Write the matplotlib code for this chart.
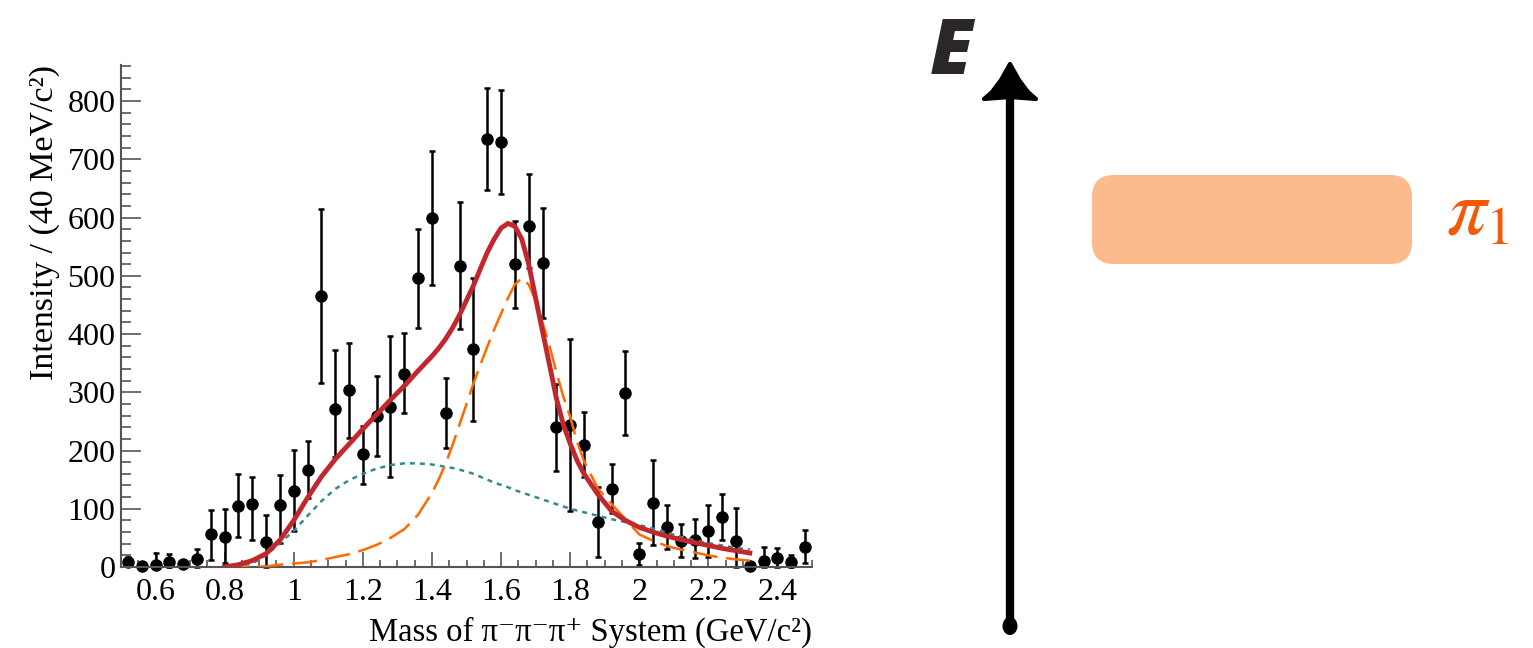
import matplotlib
matplotlib.use('Agg')
import matplotlib.pyplot as plt
from matplotlib.ticker import MultipleLocator, FormatStrFormatter
from matplotlib.patches import FancyBboxPatch, Polygon, Ellipse

# measured intensity per 40 MeV bin
mass = [0.52, 0.56, 0.60, 0.64, 0.68, 0.72, 0.76, 0.80, 0.84, 0.88,
        0.92, 0.96, 1.00, 1.04, 1.08, 1.12, 1.16, 1.20, 1.24, 1.28,
        1.32, 1.36, 1.40, 1.44, 1.48, 1.52, 1.56, 1.60, 1.64, 1.68,
        1.72, 1.76, 1.80, 1.84, 1.88, 1.92, 1.96, 2.00, 2.04, 2.08,
        2.12, 2.16, 2.20, 2.24, 2.28, 2.32, 2.36, 2.40, 2.44, 2.48]
intensity = [9, 2, 3, 9, 5, 14, 56, 52, 105, 108,
             43, 106, 130, 166, 466, 272, 304, 194, 259, 275,
             332, 496, 600, 265, 517, 374, 735, 730, 520, 586,
             522, 241, 244, 209, 78, 134, 299, 23, 110, 68,
             45, 47, 62, 86, 45, 2, 11, 15, 9, 35]
err_up = [9, 3, 21, 13, 3, 17, 42, 47, 55, 47,
          46, 52, 71, 50, 148, 100, 81, 48, 69, 122,
          69, 84, 115, 59, 110, 122, 87, 89, 74, 89,
          95, 74, 147, 58, 60, 43, 72, 19, 74, 38,
          28, 35, 44, 39, 57, 2, 23, 17, 12, 28]
err_down = [8, 2, 3, 9, 5, 14, 44, 45, 54, 62,
            43, 65, 69, 48, 150, 83, 82, 52, 69, 120,
            68, 85, 116, 60, 109, 123, 88, 89, 76, 73,
            95, 76, 147, 54, 60, 42, 72, 20, 72, 37,
            28, 32, 44, 39, 45, 2, 11, 15, 9, 28]

# fit components
fit_x = [0.80, 0.84, 0.88, 0.92, 0.96, 1.00, 1.04, 1.08, 1.12, 1.16,
         1.20, 1.24, 1.28, 1.32, 1.36, 1.40, 1.42, 1.44, 1.46, 1.48,
         1.50, 1.52, 1.54, 1.56, 1.58, 1.60, 1.62, 1.64, 1.66, 1.68,
         1.70, 1.72, 1.74, 1.76, 1.78, 1.80, 1.82, 1.84, 1.88, 1.92,
         1.96, 2.00, 2.04, 2.08, 2.12, 2.16, 2.20, 2.24, 2.28, 2.32]
total = [0, 4, 11, 23, 46, 80, 119, 155, 185, 211,
         237, 262, 287, 311, 337, 362, 376, 392, 411, 433,
         458, 483, 512, 540, 563, 582, 590, 585, 563, 520,
         462, 405, 348, 290, 245, 212, 183, 160, 125, 96,
         80, 68, 60, 53, 47, 42, 37, 32, 28, 24]
background = [0, 2, 6, 20, 41, 62, 88, 113, 134, 149,
              160, 169, 175, 178, 178, 176, 174, 172, 170, 167,
              164, 160, 155, 150, 145, 141, 137, 132, 128, 124,
              120, 116, 112, 108, 104, 100, 97, 94, 88, 82,
              77, 72, 66, 59, 52, 46, 41, 37, 33, 30]
signal = [0, 0, 0.5, 1, 4, 6, 8, 12, 17, 22,
          29, 38, 50, 65, 90, 127, 151, 178, 210, 245,
          280, 315, 347, 378, 408, 435, 462, 485, 496, 485,
          458, 420, 380, 335, 293, 258, 215, 182, 135, 108,
          82, 56, 45, 36, 30, 25, 20, 16, 13, 11]

plt.rcParams['font.family'] = ['Liberation Serif', 'DejaVu Serif']

fig = plt.figure(figsize=(15.33, 6.48), dpi=100)
ax = fig.add_axes([121 / 1533, 81 / 648, 691 / 1533, 502 / 648])

ax.errorbar(mass, intensity, yerr=[err_down, err_up], fmt='o', color='black',
            markersize=8, elinewidth=1.8, capsize=2.5, capthick=1.8,
            clip_on=False, zorder=2)
ax.plot(fit_x, background, color='#35898a', lw=1.8, dashes=(2, 2), zorder=3)
ax.plot(fit_x, signal, color='#ff6a00', lw=1.8, dashes=(10, 3.5), zorder=3)
ax.plot(fit_x, total, color='#c1272d', lw=3.5, zorder=4,
        solid_joinstyle='round')

ax.set_xlim(0.5, 2.5)
ax.set_ylim(0, 862)
for s in ['top', 'right']:
    ax.spines[s].set_visible(False)
for s in ['left', 'bottom']:
    ax.spines[s].set_color('#555555')
    ax.spines[s].set_linewidth(1.5)

ax.xaxis.set_major_locator(MultipleLocator(0.2))
ax.xaxis.set_minor_locator(MultipleLocator(0.05))
ax.xaxis.set_major_formatter(FormatStrFormatter('%g'))
ax.yaxis.set_major_locator(MultipleLocator(100))
ax.yaxis.set_minor_locator(MultipleLocator(20))
ax.tick_params(axis='x', which='major', direction='in', length=10.8, width=1.2,
               color='#555555', labelsize=23, pad=8)
ax.tick_params(axis='x', which='minor', direction='in', length=5.4, width=1.2,
               color='#555555')
ax.tick_params(axis='y', which='major', direction='in', length=14.4, width=1.2,
               color='#555555', labelsize=23, pad=4)
ax.tick_params(axis='y', which='minor', direction='in', length=7.2, width=1.2,
               color='#555555')

ax.set_ylabel('Intensity / (40 MeV/c²)', fontsize=24.5, loc='top', labelpad=5)
ax.set_xlabel('Mass of π⁻π⁻π⁺ System (GeV/c²)', fontsize=23.5, loc='right',
              labelpad=7)

# energy sketch on the right
ov = fig.add_axes([0, 0, 1, 1])
ov.set_xlim(0, 1533)
ov.set_ylim(648, 0)
ov.axis('off')

ov.plot([1010, 1010], [628, 96], color='black', lw=6, solid_capstyle='round')
ov.add_patch(Polygon([(1010, 64), (1001, 80), (992, 92), (984, 99),
                      (1010, 97), (1036, 99), (1028, 92), (1019, 80)],
                     closed=True, fc='black', ec='black', lw=3, joinstyle='round'))
ov.add_patch(Ellipse((1010, 626), 15, 18, fc='black', ec='none'))
ov.text(930, 74, 'E', fontsize=55, family='Open Sans', weight='heavy',
        style='italic', color='#2b2727', va='baseline', ha='left')

ov.add_patch(FancyBboxPatch((1114, 197), 276, 45, boxstyle='round,pad=22',
                            fc='#fbbb8d', ec='none'))
ov.text(1446, 233, r'$\pi_1$', fontsize=57, color='#f25a0a',
        math_fontfamily='stix', va='baseline', ha='left')

fig.savefig('out.png', dpi=100)
